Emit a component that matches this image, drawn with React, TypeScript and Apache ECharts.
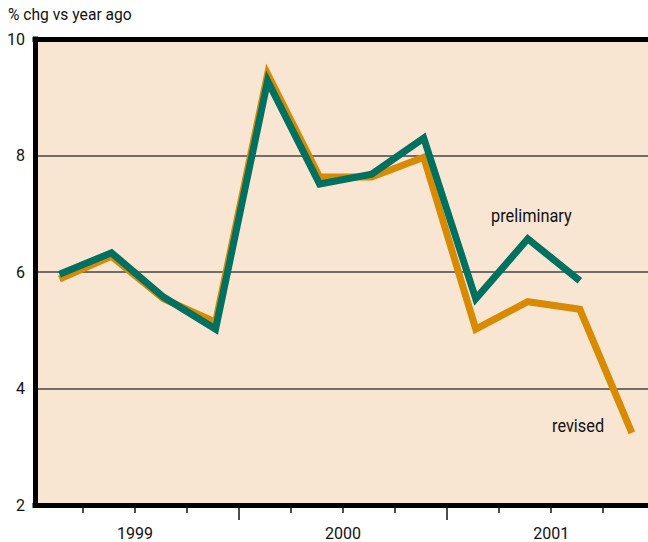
import React, { useEffect, useRef } from "react";
import * as echarts from "echarts";

const quarters = [
  "1999Q1", "1999Q2", "1999Q3", "1999Q4",
  "2000Q1", "2000Q2", "2000Q3", "2000Q4",
  "2001Q1", "2001Q2", "2001Q3", "2001Q4",
];
const preliminary: (number | null)[] = [5.96, 6.33, 5.57, 5.02, 9.28, 7.51, 7.68, 8.3, 5.54, 6.57, 5.85, null];
const revised: number[] = [5.88, 6.27, 5.54, 5.14, 9.4, 7.63, 7.63, 7.97, 5.02, 5.49, 5.36, 3.24];
const years = ["1999", "2000", "2001"];
const yearLabelAt = [2, 6, 10];
const minorTicks = [1, 2, 3, 5, 6, 7, 9, 10, 11];
const majorTicks = [4, 8];

const FONT = 'Roboto, "Liberation Sans", sans-serif';

export default function App() {
  const ref = useRef<HTMLDivElement>(null);
  useEffect(() => {
    document.body.style.margin = "0";
    const chart = echarts.init(ref.current!, null, { renderer: "svg" });
    const toPairs = (arr: (number | null)[]) =>
      quarters
        .map((q, i) => [i + 0.55, arr[i]] as [number, number | null])
        .filter((p) => p[1] !== null);
    const xMin = 0.08;
    const xMax = 11.86;
    chart.setOption({
      animation: false,
      grid: {
        left: 35,
        right: 0,
        top: 39,
        bottom: 37,
        show: true,
        backgroundColor: "#F8E6D3",
        borderWidth: 0,
      },
      xAxis: [
        {
          type: "value",
          min: xMin,
          max: xMax,
          position: "bottom",
          splitLine: { show: false },
          axisLine: { show: true, lineStyle: { color: "#000", width: 5, cap: "square" } },
          axisTick: { show: true, customValues: minorTicks, length: 8, lineStyle: { color: "#111", width: 1.5 } },
          axisLabel: {
            customValues: yearLabelAt,
            formatter: (v: number) => years[yearLabelAt.indexOf(Math.round(v))] ?? "",
            fontFamily: FONT,
            fontSize: 16,
            color: "#111",
            margin: 20,
          },
        },
        {
          type: "value",
          min: xMin,
          max: xMax,
          position: "bottom",
          splitLine: { show: false },
          axisLine: { show: false },
          axisTick: { show: true, customValues: majorTicks, length: 15, lineStyle: { color: "#111", width: 1.5 } },
          axisLabel: { show: false },
        },
        {
          type: "value",
          min: xMin,
          max: xMax,
          position: "top",
          splitLine: { show: false },
          axisLine: { show: true, lineStyle: { color: "#000", width: 5, cap: "square" } },
          axisTick: { show: false },
          axisLabel: { show: false },
        },
      ],
      yAxis: {
        type: "value",
        min: 2,
        max: 10,
        interval: 2,
        axisLine: { show: true, lineStyle: { color: "#000", width: 5, cap: "square" } },
        axisTick: { show: false },
        splitLine: { show: true, lineStyle: { color: "#444", width: 1.5 } },
        axisLabel: { fontFamily: FONT, fontSize: 16, color: "#111", margin: 10 },
      },
      series: [
        {
          name: "revised",
          type: "line",
          data: toPairs(revised),
          symbol: "none",
          lineStyle: { color: "#D88A00", width: 7, join: "miter" },
          z: 3,
        },
        {
          name: "preliminary",
          type: "line",
          data: toPairs(preliminary),
          symbol: "none",
          lineStyle: { color: "#007060", width: 7, join: "miter" },
          z: 4,
        },
      ],
      graphic: [
        {
          type: "text",
          x: 8,
          y: 6,
          scaleX: 0.92,
          style: { text: "% chg vs year ago", font: `17px ${FONT}`, fill: "#111" },
        },
        {
          type: "text",
          x: 491,
          y: 206,
          scaleX: 0.86,
          z: 10,
          style: { text: "preliminary", font: `19px ${FONT}`, fill: "#111" },
        },
        {
          type: "text",
          x: 552,
          y: 416,
          scaleX: 0.86,
          z: 10,
          style: { text: "revised", font: `19px ${FONT}`, fill: "#111" },
        },
      ],
    });
    return () => chart.dispose();
  }, []);
  return <div ref={ref} style={{ width: 648, height: 542 }} />;
}
